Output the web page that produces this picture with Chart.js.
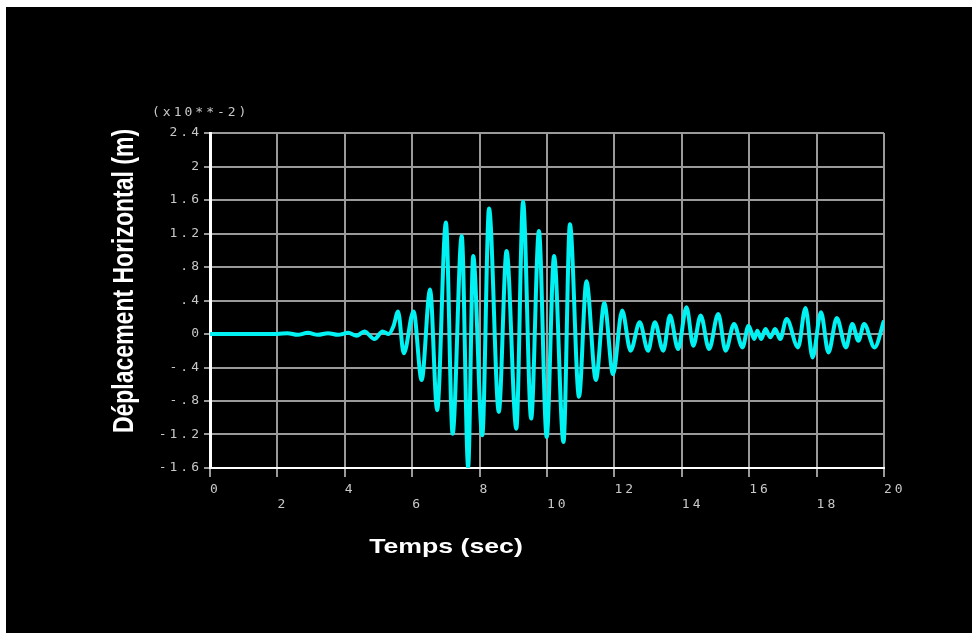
<!DOCTYPE html>
<html lang="fr">
<head>
<meta charset="utf-8">
<title>Déplacement Horizontal</title>
<script src="https://cdn.jsdelivr.net/npm/chart.js@4.4.1/dist/chart.umd.min.js"></script>
<style>
  html, body { margin: 0; padding: 0; background: #fff; }
  #graficoDeplacement { position: absolute; left: 6px; top: 7px; background: #000; }
</style>
</head>
<body>
<canvas id="graficoDeplacement" width="966" height="626"></canvas>
<script>
// temps (sec) et déplacement (x10**-2 m)
const temps = [0, 1.0, 2.0, 2.3, 2.6, 2.9, 3.2, 3.5, 3.8, 4.1,
  4.35, 4.58, 4.88, 5.12, 5.3, 5.45, 5.58, 5.75,
  6.04, 6.28, 6.53, 6.74, 7.0, 7.2, 7.47, 7.66, 7.81, 8.08,
  8.28, 8.57, 8.8, 9.09, 9.29, 9.53, 9.76, 9.99, 10.21, 10.49,
  10.68, 10.95, 11.17, 11.45, 11.7, 11.96, 12.23, 12.48, 12.75, 13.0,
  13.2, 13.45, 13.65, 13.89, 14.14, 14.34, 14.56, 14.81, 15.08, 15.3,
  15.55, 15.8, 15.98, 16.15, 16.24, 16.36, 16.48, 16.63, 16.77, 16.92,
  17.11, 17.45, 17.67, 17.88, 18.13, 18.35, 18.6, 18.87, 19.06, 19.24,
  19.41, 19.72, 20.0];

const deplacement = [0, 0, 0, 0.01, -0.01, 0.015, -0.01, 0.01, -0.01, 0.015,
  -0.02, 0.03, -0.06, 0.03, 0.0, 0.1, 0.27, -0.23,
  0.27, -0.55, 0.53, -0.91, 1.33, -1.19, 1.17, -1.59, 0.93, -1.21,
  1.5, -0.93, 0.99, -1.13, 1.58, -1.01, 1.23, -1.23, 0.93, -1.29,
  1.31, -0.75, 0.63, -0.55, 0.37, -0.48, 0.28, -0.2, 0.14, -0.2,
  0.14, -0.2, 0.22, -0.18, 0.32, -0.14, 0.22, -0.18, 0.24, -0.2,
  0.12, -0.16, 0.1, -0.06, 0.04, -0.06, 0.06, -0.04, 0.06, -0.06,
  0.18, -0.16, 0.31, -0.28, 0.26, -0.22, 0.19, -0.16, 0.12, -0.08,
  0.12, -0.16, 0.16];

const yMin = -1.6, yMax = 2.4, yPas = 0.4;
const xMin = 0, xMax = 20, xPas = 2;

const titreX = "Temps (sec)";
const titreY = "Déplacement Horizontal (m)";
const echelle = "(x10**-2)";

document.addEventListener("DOMContentLoaded", () => {
  const police = "'DejaVu Sans Mono', monospace";

  // ".8" au lieu de "0.8", comme sur l'original
  const formatY = (v) => {
    const s = (Math.round(v * 10) / 10).toString();
    return s.replace(/^(-?)0\./, "$1.");
  };

  // textes dessinés à la main : titres étirés + facteur d'échelle
  const textes = {
    id: "textes",
    beforeDraw(chart) {
      chart.ctx.letterSpacing = "3px";
    },
    afterDraw(chart) {
      const ctx = chart.ctx;
      ctx.save();
      ctx.fillStyle = "#c8c8c8";
      ctx.font = "13px " + police;
      ctx.textAlign = "left";
      ctx.textBaseline = "middle";
      ctx.fillText(echelle, 146, 106);

      ctx.letterSpacing = "0px";
      ctx.fillStyle = "#fff";
      ctx.font = "bold 21px 'Liberation Sans', Arial, sans-serif";
      ctx.textAlign = "center";

      ctx.save();
      ctx.translate(440, 540);
      ctx.scale(1.27, 1);
      ctx.fillText(titreX, 0, 0);
      ctx.restore();

      ctx.save();
      ctx.font = "bold 23px 'Liberation Sans', Arial, sans-serif";
      ctx.translate(119, 274);
      ctx.scale(1.3, 1);
      ctx.rotate(-Math.PI / 2);
      ctx.fillText(titreY, 0, 0);
      ctx.restore();

      ctx.restore();
    }
  };

  const ctx = document.getElementById("graficoDeplacement").getContext("2d");

  new Chart(ctx, {
    type: "line",
    data: {
      datasets: [{
        data: temps.map((t, i) => ({ x: t, y: deplacement[i] })),
        borderColor: "#00f2f2",
        borderWidth: 4,
        pointRadius: 0,
        cubicInterpolationMode: "monotone",
        fill: false
      }]
    },
    options: {
      responsive: false,
      animation: false,
      layout: { padding: { left: 0, right: 88, top: 126, bottom: 0 } },
      plugins: { legend: { display: false }, tooltip: { enabled: false } },
      scales: {
        x: {
          type: "linear",
          min: xMin,
          max: xMax,
          afterFit: (scale) => { scale.height = 165; },
          grid: { color: "#9a9a9a", lineWidth: 2, tickLength: 9 },
          border: { color: "#fff", width: 2 },
          ticks: {
            stepSize: xPas,
            autoSkip: false,
            maxRotation: 0,
            align: "start",
            padding: 5,
            color: "#c8c8c8",
            font: { family: police, size: 13, lineHeight: "15px" },
            // une étiquette sur deux descend d'une ligne
            callback: (v) => ((v / xPas) % 2 === 1 ? ["", String(v)] : String(v))
          }
        },
        y: {
          min: yMin,
          max: yMax,
          afterFit: (scale) => { scale.width = 204; },
          grid: { color: "#9a9a9a", lineWidth: 2, tickLength: 6 },
          border: { color: "#fff", width: 3 },
          ticks: {
            stepSize: yPas,
            padding: 2,
            color: "#c8c8c8",
            font: { family: police, size: 13 },
            callback: (v) => formatY(v)
          }
        }
      }
    },
    plugins: [textes]
  });
});
</script>
</body>
</html>
